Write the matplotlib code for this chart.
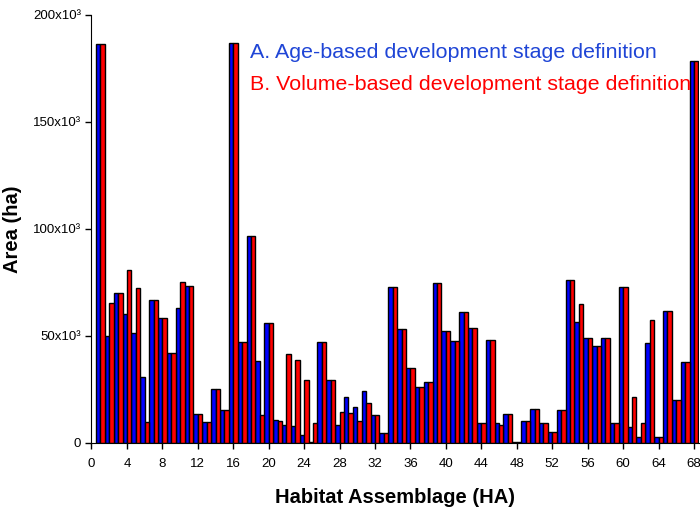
import matplotlib
matplotlib.use("Agg")
import matplotlib.pyplot as plt
import numpy as np

plt.rcParams['font.family'] = ['Liberation Sans', 'DejaVu Sans']

ha = list(range(1, 69))
age_based = [186.5, 50.1, 70.1, 60.5, 51.6, 30.8, 66.6, 58.6, 42.0, 63.1,
             73.4, 13.5, 9.8, 25.3, 15.6, 187.1, 47.4, 96.9, 38.3, 56.1,
             10.9, 8.6, 8.1, 3.6, 0.3, 47.3, 29.5, 8.6, 21.6, 16.8,
             24.1, 13.1, 4.7, 72.9, 53.3, 35.1, 26.3, 28.5, 74.6, 52.3,
             47.7, 61.1, 53.7, 9.3, 47.9, 9.3, 13.5, 0.3, 10.3, 16.0,
             9.3, 5.1, 15.2, 76.0, 56.3, 49.0, 45.3, 49.1, 9.3, 72.8,
             7.5, 2.8, 46.7, 2.8, 61.6, 20.2, 37.9, 178.7]
volume_based = [186.5, 65.2, 70.1, 80.7, 72.3, 9.8, 66.6, 58.6, 42.0, 75.1,
                73.4, 13.5, 9.8, 25.3, 15.6, 187.1, 47.4, 96.9, 12.9, 56.1,
                10.1, 41.7, 39.0, 29.2, 9.5, 47.3, 29.5, 14.5, 14.0, 10.3,
                18.8, 13.1, 4.7, 72.9, 53.3, 35.1, 26.3, 28.5, 74.6, 52.3,
                47.7, 61.1, 53.7, 9.3, 47.9, 8.6, 13.5, 0.3, 10.3, 16.0,
                9.3, 5.1, 15.2, 76.0, 65.0, 49.0, 45.3, 49.1, 9.3, 72.8,
                21.6, 9.3, 57.4, 2.8, 61.6, 20.2, 37.9, 178.7]
xticks = list(range(0, 69, 4))
yticks = [0, 50000, 100000, 150000, 200000]
ytick_labels = ["0", "50x10³", "100x10³", "150x10³", "200x10³"]
legend_a = "A. Age-based development stage definition"
legend_b = "B. Volume-based development stage definition"

fig = plt.figure(figsize=(7.0, 5.08), dpi=100)
ax = fig.add_axes([0.1307, 0.128, 0.8683, 0.8425])

x = np.array(ha, dtype=float)
w = 0.5
ax.bar(x - w/2, np.array(age_based) * 1000, width=w, color='#0000FF',
       edgecolor='black', linewidth=1.0)
ax.bar(x + w/2, np.array(volume_based) * 1000, width=w, color='#FF0000',
       edgecolor='black', linewidth=1.0)

ax.set_xlim(0, 68.6)
ax.set_ylim(0, 200000)
ax.set_xticks(xticks)
ax.set_xticklabels([str(t) for t in xticks], fontsize=9.5)
ax.set_yticks(yticks)
ax.set_yticklabels(ytick_labels, fontsize=9.5)
ax.tick_params(direction='out', length=4, width=1)
ax.tick_params(axis='x', pad=7)
ax.spines['top'].set_visible(False)
ax.spines['right'].set_visible(False)

ax.set_xlabel("Habitat Assemblage (HA)", fontsize=14.5, fontweight='bold', labelpad=13)
ax.set_ylabel("Area (ha)", fontsize=14.5, fontweight='bold', labelpad=8)

ax.text(250/700, 1 - 53/508, legend_a, color='#1f45d6', fontsize=15.4,
        va='center', ha='left', transform=fig.transFigure, zorder=10)
ax.text(250/700, 1 - 84/508, legend_b, color='#FF0000', fontsize=15.4,
        va='center', ha='left', transform=fig.transFigure, zorder=10)

fig.savefig("out.png", dpi=100)
